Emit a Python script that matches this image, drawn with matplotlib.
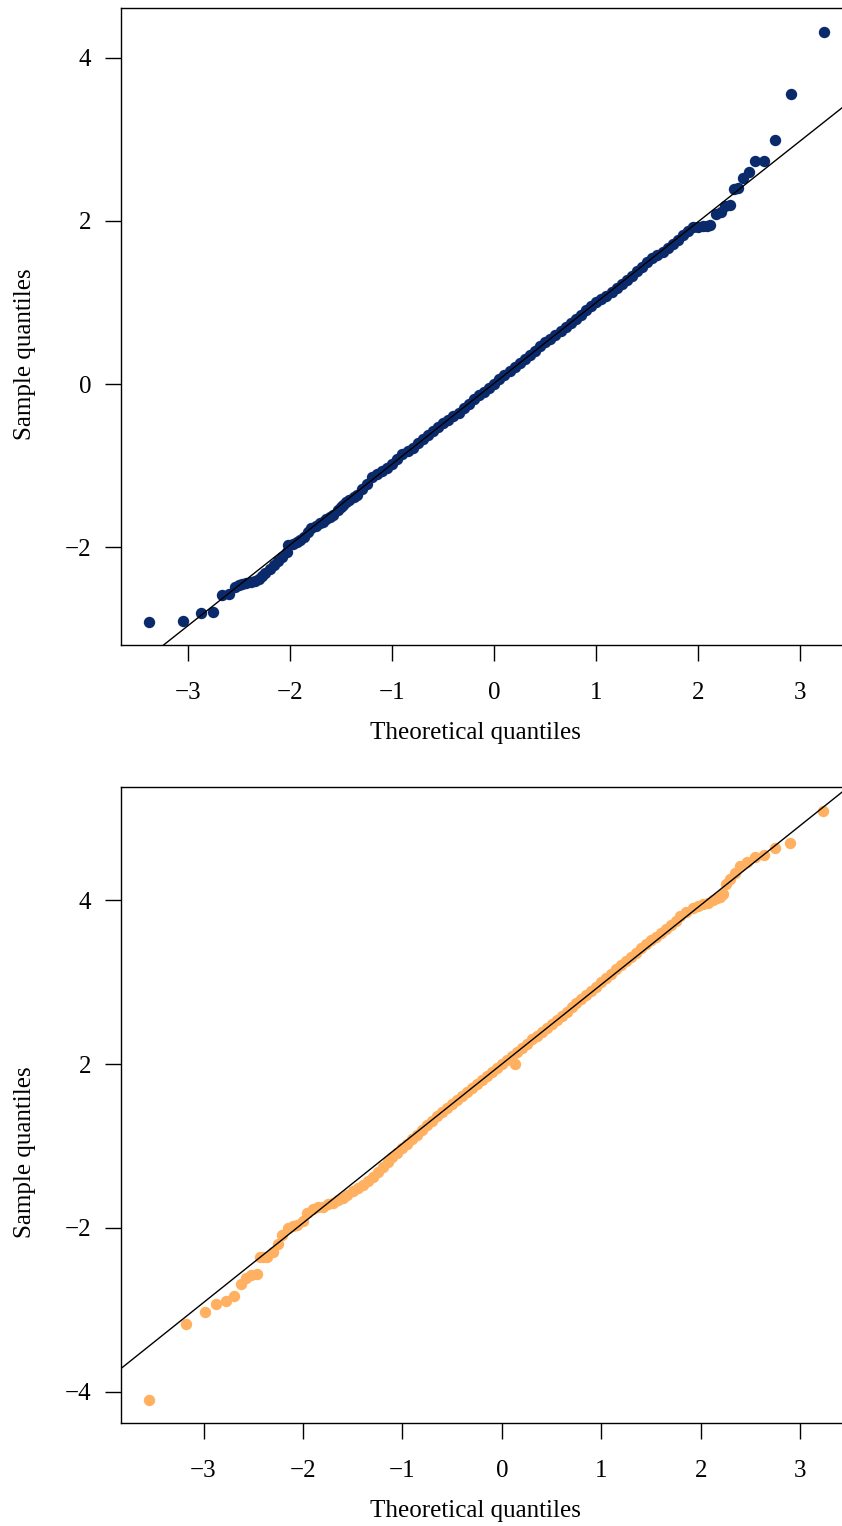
import matplotlib
matplotlib.use("Agg")
import matplotlib.pyplot as plt

# ---------------- data ----------------
# Top panel (navy): theoretical vs sample quantiles
top_x = [-3.39, -3.05, -2.88, -2.76, -2.67, -2.60, -2.54, -2.50, -2.47, -2.43, -2.39,
         -2.35, -2.31, -2.28, -2.25, -2.20, -2.16, -2.12, -2.08, -2.03, -2.02,
         -1.97, -1.93, -1.90, -1.87, -1.83, -1.80, -1.75, -1.71, -1.68, -1.65, -1.61, -1.58,
         -1.53, -1.50, -1.48, -1.45, -1.42, -1.38, -1.35,
         -1.30, -1.25, -1.20, -1.15, -1.10, -1.05, -1.00, -0.95, -0.90, -0.85,
         -0.80, -0.75, -0.70, -0.65, -0.60, -0.55, -0.50, -0.45, -0.40, -0.35,
         -0.30, -0.25, -0.20, -0.15, -0.10, -0.05, 0.00, 0.05, 0.10, 0.15,
         0.20, 0.25, 0.30, 0.35, 0.40, 0.45, 0.50, 0.55, 0.60, 0.65,
         0.70, 0.75, 0.80, 0.85, 0.90, 0.95, 1.00, 1.05, 1.10, 1.15,
         1.20, 1.25, 1.30, 1.35, 1.40, 1.45, 1.50, 1.55, 1.60, 1.65,
         1.70, 1.75, 1.80, 1.85, 1.90, 1.95,
         2.00, 2.05, 2.09, 2.12, 2.17, 2.22, 2.26, 2.31, 2.35, 2.39, 2.44,
         2.50, 2.56, 2.65, 2.75, 2.91, 3.23]
top_y = [-2.92, -2.91, -2.81, -2.79, -2.59, -2.58, -2.49, -2.47, -2.45, -2.44, -2.43,
         -2.41, -2.39, -2.36, -2.32, -2.27, -2.22, -2.17, -2.12, -2.06, -1.98,
         -1.96, -1.94, -1.91, -1.87, -1.82, -1.77, -1.74, -1.71, -1.69, -1.66, -1.63, -1.61,
         -1.55, -1.51, -1.48, -1.45, -1.42, -1.39, -1.36,
         -1.29, -1.22, -1.14, -1.10, -1.07, -1.03, -0.98, -0.92, -0.86, -0.82,
         -0.78, -0.72, -0.68, -0.63, -0.58, -0.53, -0.48, -0.44, -0.39, -0.35,
         -0.30, -0.24, -0.19, -0.14, -0.10, -0.05, 0.00, 0.06, 0.11, 0.16,
         0.21, 0.26, 0.31, 0.36, 0.41, 0.46, 0.51, 0.55, 0.60, 0.65,
         0.70, 0.75, 0.80, 0.85, 0.91, 0.96, 1.00, 1.04, 1.08, 1.13,
         1.18, 1.23, 1.28, 1.33, 1.38, 1.44, 1.50, 1.54, 1.58, 1.62,
         1.67, 1.72, 1.77, 1.83, 1.88, 1.93,
         1.93, 1.94, 1.94, 1.95, 2.09, 2.11, 2.18, 2.20, 2.39, 2.40, 2.52,
         2.60, 2.73, 2.74, 2.99, 3.55, 4.32]
top_line = (0.01, 0.99)          # (intercept, slope) of reference line
top_yticks = [4, 2, 0, -2]
top_yticklabels = ["4", "2", "0", "\u22122"]

# Bottom panel (orange)
bot_x = [-3.55, -3.18, -2.99, -2.87, -2.77, -2.69, -2.62, -2.57, -2.52, -2.46,
         -2.43, -2.40, -2.36, -2.30, -2.25, -2.21, -2.15, -2.10, -2.06, -2.00, -1.96,
         -1.90, -1.85, -1.80, -1.75, -1.70, -1.65, -1.60, -1.56, -1.50, -1.45,
         -1.40, -1.35,
         -1.30, -1.25, -1.20, -1.15, -1.10, -1.05, -1.00, -0.95, -0.90, -0.85,
         -0.80, -0.75, -0.70, -0.65, -0.60, -0.55, -0.50, -0.45, -0.40, -0.35,
         -0.30, -0.25, -0.20, -0.15, -0.10, -0.05, 0.00, 0.05, 0.10, 0.13,
         0.15, 0.20, 0.25, 0.30, 0.35, 0.40, 0.45, 0.50, 0.55, 0.60,
         0.65, 0.70, 0.75, 0.80, 0.85, 0.90, 0.95, 1.00, 1.05, 1.10,
         1.15, 1.20, 1.25, 1.30, 1.35, 1.40, 1.45, 1.50, 1.55, 1.60,
         1.65, 1.70, 1.75,
         1.79, 1.85, 1.92, 1.97, 2.02, 2.07, 2.12, 2.16, 2.19, 2.22, 2.25, 2.29, 2.34,
         2.39, 2.46, 2.55, 2.64, 2.75, 2.90, 3.23]
bot_y = [-2.10, -1.17, -1.02, -0.93, -0.89, -0.83, -0.69, -0.61, -0.58, -0.56,
         -0.36, -0.36, -0.35, -0.29, -0.19, -0.09, 0.00, 0.02, 0.04, 0.08, 0.18,
         0.23, 0.25, 0.26, 0.29, 0.31, 0.34, 0.37, 0.40, 0.45, 0.49,
         0.53, 0.57,
         0.62, 0.68, 0.74, 0.80, 0.86, 0.92, 0.97, 1.03, 1.09, 1.14,
         1.20, 1.26, 1.31, 1.36, 1.41, 1.46, 1.51, 1.56, 1.61, 1.66,
         1.71, 1.76, 1.81, 1.85, 1.90, 1.95, 2.00, 2.05, 2.10, 2.00,
         2.15, 2.20, 2.25, 2.30, 2.34, 2.39, 2.44, 2.49, 2.54, 2.59,
         2.64, 2.69, 2.74, 2.79, 2.84, 2.89, 2.94, 3.00, 3.05, 3.10,
         3.16, 3.21, 3.26, 3.31, 3.36, 3.41, 3.46, 3.51, 3.55, 3.60,
         3.65, 3.70, 3.75,
         3.80, 3.85, 3.90, 3.93, 3.95, 3.97, 4.00, 4.02, 4.04, 4.08, 4.20, 4.26, 4.33,
         4.41, 4.47, 4.52, 4.55, 4.64, 4.70, 5.09]
bot_line = (2.0, 0.97)
bot_yticks = [4, 2, 0, -2]
bot_yticklabels = ["4", "2", "\u22122", "\u22124"]

xticks = [-3, -2, -1, 0, 1, 2, 3]
xticklabels = ["\u22123", "\u22122", "\u22121", "0", "1", "2", "3"]

navy = "#0b2a6b"
orange = "#ffb060"

# ---------------- figure ----------------
plt.rcParams["font.family"] = ["Liberation Serif", "DejaVu Serif"]
W, H = 842, 1526
fig = plt.figure(figsize=(W / 100, H / 100), dpi=100)
FS = 18


def px_axes(left, top, right, bottom):
    return fig.add_axes([left / W, 1 - bottom / H, (right - left) / W, (bottom - top) / H])


def style(ax, xlim, ylim, yticks, yticklabels, ylab_y):
    ax.set_xlim(*xlim)
    ax.set_ylim(*ylim)
    ax.set_xticks(xticks)
    ax.set_xticklabels(xticklabels)
    ax.set_yticks(yticks)
    ax.set_yticklabels(yticklabels)
    ax.spines["right"].set_visible(False)
    for s in ("left", "top", "bottom"):
        ax.spines[s].set_linewidth(1.0)
    ax.tick_params(axis="both", direction="out", length=11.5, width=1.0,
                   labelsize=FS, colors="black")
    ax.tick_params(axis="x", pad=15)
    ax.tick_params(axis="y", pad=10)
    ax.set_xlabel("Theoretical quantiles", fontsize=FS)
    ax.set_ylabel("Sample quantiles", fontsize=FS)
    ax.xaxis.set_label_coords(0.492, -0.121)
    ax.yaxis.set_label_coords(-0.118, ylab_y)


ax1 = px_axes(121, 8, 842, 645)
ax1.plot(top_x, top_y, "o", ms=8.2, color=navy, mec="none", zorder=2)
ax1.axline((0, top_line[0]), slope=top_line[1], color="black", lw=1.0, zorder=3)
style(ax1, (-3.66, 3.41), (-3.20, 4.61), top_yticks, top_yticklabels, 0.457)

ax2 = px_axes(121, 787, 842, 1423)
ax2.plot(bot_x, bot_y, "o", ms=8.2, color=orange, mec="none", zorder=2)
ax2.axline((0, bot_line[0]), slope=bot_line[1], color="black", lw=1.0, zorder=3)
style(ax2, (-3.83, 3.42), (-2.38, 5.38), bot_yticks, bot_yticklabels, 0.426)

fig.savefig("out.png", dpi=100)
